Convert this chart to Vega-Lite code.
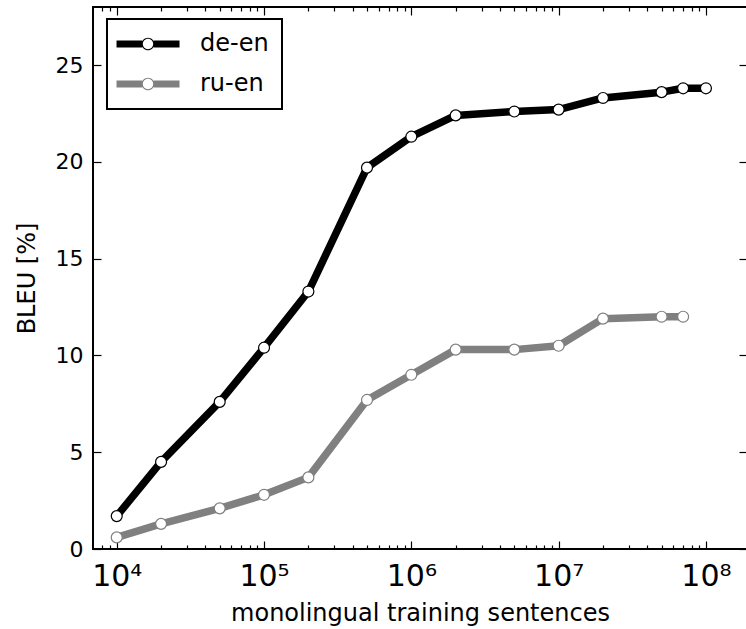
{
  "$schema": "https://vega.github.io/schema/vega-lite/v6.json",
  "width": 654,
  "height": 542,
  "autosize": {"type": "none"},
  "padding": {"left": 93, "top": 7, "right": 0, "bottom": 80},
  "background": "white",
  "data": {
    "values": [
      {"pair": "de-en", "sentences": 10000, "bleu": 1.7},
      {"pair": "de-en", "sentences": 20000, "bleu": 4.5},
      {"pair": "de-en", "sentences": 50000, "bleu": 7.6},
      {"pair": "de-en", "sentences": 100000, "bleu": 10.4},
      {"pair": "de-en", "sentences": 200000, "bleu": 13.3},
      {"pair": "de-en", "sentences": 500000, "bleu": 19.7},
      {"pair": "de-en", "sentences": 1000000, "bleu": 21.3},
      {"pair": "de-en", "sentences": 2000000, "bleu": 22.4},
      {"pair": "de-en", "sentences": 5000000, "bleu": 22.6},
      {"pair": "de-en", "sentences": 10000000, "bleu": 22.7},
      {"pair": "de-en", "sentences": 20000000, "bleu": 23.3},
      {"pair": "de-en", "sentences": 50000000, "bleu": 23.6},
      {"pair": "de-en", "sentences": 70000000, "bleu": 23.8},
      {"pair": "de-en", "sentences": 100000000, "bleu": 23.8},
      {"pair": "ru-en", "sentences": 10000, "bleu": 0.6},
      {"pair": "ru-en", "sentences": 20000, "bleu": 1.3},
      {"pair": "ru-en", "sentences": 50000, "bleu": 2.1},
      {"pair": "ru-en", "sentences": 100000, "bleu": 2.8},
      {"pair": "ru-en", "sentences": 200000, "bleu": 3.7},
      {"pair": "ru-en", "sentences": 500000, "bleu": 7.7},
      {"pair": "ru-en", "sentences": 1000000, "bleu": 9.0},
      {"pair": "ru-en", "sentences": 2000000, "bleu": 10.3},
      {"pair": "ru-en", "sentences": 5000000, "bleu": 10.3},
      {"pair": "ru-en", "sentences": 10000000, "bleu": 10.5},
      {"pair": "ru-en", "sentences": 20000000, "bleu": 11.9},
      {"pair": "ru-en", "sentences": 50000000, "bleu": 12.0},
      {"pair": "ru-en", "sentences": 70000000, "bleu": 12.0}
    ]
  },
  "layer": [
    {
      "mark": {"type": "line", "strokeWidth": 7.5, "strokeJoin": "round", "strokeCap": "butt"},
      "encoding": {
        "x": {
          "field": "sentences", "type": "quantitative",
          "scale": {"type": "log", "domain": [6900, 190000000], "nice": false},
          "axis": {
            "orient": "bottom",
            "values": [10000, 100000, 1000000, 10000000, 100000000],
            "labelExpr": "'10' + ['⁰','¹','²','³','⁴','⁵','⁶','⁷','⁸','⁹'][round(log(datum.value)/LN10)]",
            "tickSize": -8,
            "labelPadding": 20,
            "labelFontSize": 30,
            "title": "monolingual training sentences",
            "titleFontSize": 24,
            "titlePadding": 10
          }
        },
        "y": {
          "field": "bleu", "type": "quantitative",
          "scale": {"domain": [0, 28], "nice": false},
          "axis": {
            "orient": "left",
            "values": [0, 5, 10, 15, 20, 25],
            "tickSize": -8,
            "labelPadding": 18,
            "labelFontSize": 22,
            "title": "BLEU [%]",
            "titleFontSize": 24,
            "titlePadding": 16
          }
        },
        "stroke": {
          "field": "pair", "type": "nominal",
          "scale": {"domain": ["ru-en", "de-en"], "range": ["#808080", "#000000"]},
          "legend": null
        }
      }
    },
    {
      "mark": {"type": "point", "shape": "circle", "filled": true, "opacity": 1},
      "encoding": {
        "x": {
          "field": "sentences", "type": "quantitative",
          "scale": {"type": "log", "domain": [6900, 190000000], "nice": false},
          "axis": {
            "orient": "bottom",
            "values": [8000, 9000, 20000, 30000, 40000, 50000, 60000, 70000, 80000, 90000, 200000, 300000, 400000, 500000, 600000, 700000, 800000, 900000, 2000000, 3000000, 4000000, 5000000, 6000000, 7000000, 8000000, 9000000, 20000000, 30000000, 40000000, 50000000, 60000000, 70000000, 80000000, 90000000],
            "labels": false,
            "tickSize": -4,
            "title": null
          }
        },
        "y": {
          "field": "bleu", "type": "quantitative",
          "scale": {"domain": [0, 28], "nice": false},
          "axis": {
            "orient": "right",
            "values": [0, 5, 10, 15, 20, 25],
            "labels": false,
            "tickSize": -8,
            "title": null
          }
        },
        "color": {
          "field": "pair", "type": "nominal",
          "scale": {"domain": ["de-en", "ru-en"], "range": ["#000000", "#808080"]},
          "legend": {
            "orient": "none",
            "legendX": 14,
            "legendY": 12,
            "title": null,
            "symbolType": "M-1.29,-0.29H0.86V0.29H-1.29Z M1.8,-0.29H3.96V0.29H1.8Z M1.858,0A0.525,0.525 0 1 1 0.808,0A0.525,0.525 0 1 1 1.858,0Z M1.763,0A0.43,0.43 0 1 0 0.903,0A0.43,0.43 0 1 0 1.763,0Z",
            "symbolSize": 576,
            "symbolStrokeWidth": 0,
            "symbolOpacity": 1,
            "labelFont": "DejaVu Sans",
            "labelFontSize": 24,
            "labelColor": "black",
            "labelOffset": 56,
            "padding": 13,
            "rowPadding": 16,
            "strokeColor": "black",
            "fillColor": "white"
          }
        }
      }
    },
    {
      "mark": {"type": "point", "shape": "circle", "filled": true, "fill": "white", "fillOpacity": 1, "opacity": 1, "size": 120, "strokeWidth": 1.2},
      "encoding": {
        "x": {
          "field": "sentences", "type": "quantitative",
          "scale": {"type": "log", "domain": [6900, 190000000], "nice": false},
          "axis": {
            "orient": "top",
            "values": [10000, 100000, 1000000, 10000000, 100000000],
            "labels": false,
            "tickSize": -8,
            "title": null
          }
        },
        "y": {
          "field": "bleu", "type": "quantitative",
          "scale": {"domain": [0, 28], "nice": false},
          "axis": null
        },
        "stroke": {
          "field": "pair", "type": "nominal",
          "scale": {"domain": ["ru-en", "de-en"], "range": ["#808080", "#000000"]},
          "legend": null
        }
      }
    },
    {
      "mark": {"type": "point", "opacity": 0, "size": 1},
      "encoding": {
        "x": {
          "field": "sentences", "type": "quantitative",
          "scale": {"type": "log", "domain": [6900, 190000000], "nice": false},
          "axis": {
            "orient": "top",
            "values": [8000, 9000, 20000, 30000, 40000, 50000, 60000, 70000, 80000, 90000, 200000, 300000, 400000, 500000, 600000, 700000, 800000, 900000, 2000000, 3000000, 4000000, 5000000, 6000000, 7000000, 8000000, 9000000, 20000000, 30000000, 40000000, 50000000, 60000000, 70000000, 80000000, 90000000],
            "labels": false,
            "tickSize": -4,
            "title": null
          }
        },
        "y": {
          "field": "bleu", "type": "quantitative",
          "scale": {"domain": [0, 28], "nice": false},
          "axis": null
        }
      }
    }
  ],
  "resolve": {"axis": {"x": "independent", "y": "independent"}},
  "config": {
    "view": {"stroke": "black", "strokeWidth": 2},
    "axis": {
      "labelFont": "DejaVu Sans",
      "titleFont": "DejaVu Sans",
      "labelColor": "black",
      "titleColor": "black",
      "tickColor": "black",
      "tickWidth": 1.2,
      "grid": false,
      "domain": false,
      "titleFontWeight": "normal",
      "labelFlush": false,
      "labelOverlap": false
    },
    "legend": {"strokeWidth": 2}
  }
}
